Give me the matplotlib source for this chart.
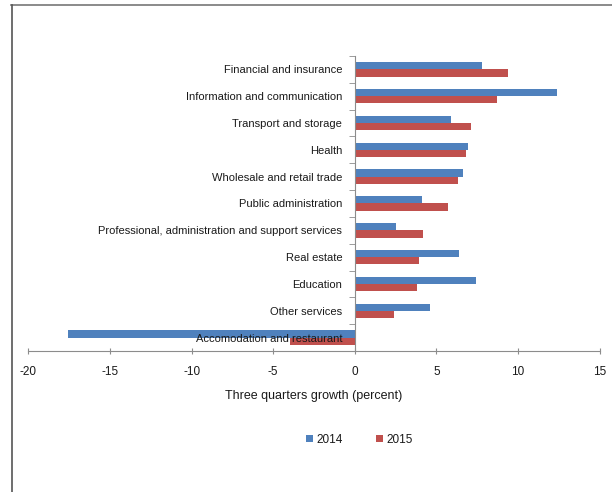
import numpy as np
import matplotlib
matplotlib.use("Agg")
import matplotlib.pyplot as plt
from matplotlib.lines import Line2D

# Sector growth over three quarters, in percent
sectors = [
    "Financial and insurance",
    "Information and communication",
    "Transport and storage",
    "Health",
    "Wholesale and retail trade",
    "Public administration",
    "Professional, administration and support services",
    "Real estate",
    "Education",
    "Other services",
    "Accomodation and restaurant",
]
growth_2014 = [7.8, 12.4, 5.9, 6.9, 6.6, 4.1, 2.5, 6.4, 7.4, 4.6, -17.6]
growth_2015 = [9.4, 8.7, 7.1, 6.8, 6.3, 5.7, 4.2, 3.9, 3.8, 2.4, -4.0]
series_labels = ["2014", "2015"]
x_ticks = [-20, -15, -10, -5, 0, 5, 10, 15]

plt.rcParams['font.family'] = ['Liberation Sans', 'DejaVu Sans']

blue = "#4f81bd"
red = "#c0504d"
grey = "#8c8c8c"
text_col = "#1a1a1a"

fig = plt.figure(figsize=(6.12, 4.92), dpi=100)
ax = fig.add_axes([0.0463, 0.2866, 0.9337, 0.5996])

n = len(sectors)
pos = np.arange(n)
h = 0.27
ax.barh(pos - h / 2, growth_2014, height=h, color=blue, label=series_labels[0], zorder=1)
ax.barh(pos + h / 2, growth_2015, height=h, color=red, label=series_labels[1], zorder=1)

ax.set_ylim(n - 0.5, -0.5)
ax.set_xlim(-20, 15)
ax.set_xticks(x_ticks)
ax.set_xticklabels([str(t) for t in x_ticks], fontsize=8.5, color=text_col)

# Category axis sits on zero, labels next to it
for side in ("top", "right"):
    ax.spines[side].set_visible(False)
ax.spines["left"].set_position(("data", 0))
ax.spines["left"].set_color(grey)
ax.spines["bottom"].set_color(grey)
ax.set_yticks(pos)
ax.set_yticklabels(sectors, fontsize=8, color=text_col)
ax.set_yticks(np.arange(n + 1) - 0.5, minor=True)
ax.tick_params(axis="y", which="major", length=0, pad=9)
ax.tick_params(axis="y", which="minor", length=4, color=grey, direction="out")
ax.tick_params(axis="x", length=5, direction="inout", color=grey, pad=8)

ax.set_xlabel("Three quarters growth (percent)", fontsize=9, labelpad=9, color=text_col)

ax.legend(loc="upper center", bbox_to_anchor=(0.58, -0.245), ncol=2, frameon=False,
          fontsize=8.5, handlelength=0.6, handleheight=0.6, handletextpad=0.3,
          columnspacing=2.8, labelcolor=text_col)

# Outer frame of the chart box
fig.add_artist(Line2D([11 / 612, 1], [1 - 5 / 492, 1 - 5 / 492], color="#777777", lw=1.2))
fig.add_artist(Line2D([12 / 612, 12 / 612], [0, 1 - 5 / 492], color="#555555", lw=1.2))

fig.savefig("out.png", dpi=100)
